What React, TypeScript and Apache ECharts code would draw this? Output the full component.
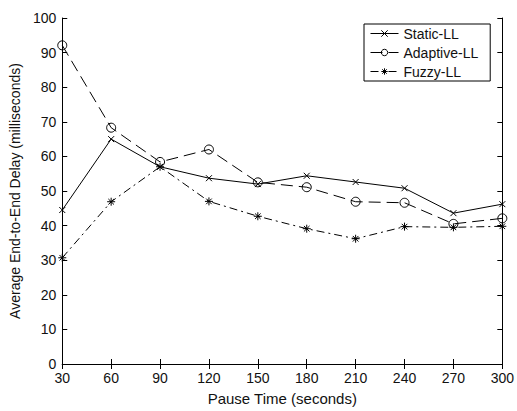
import React, { useEffect, useRef } from "react";
import * as echarts from "echarts";

const pauseTimes = ["30", "60", "90", "120", "150", "180", "210", "240", "270", "300"];
const staticLL = [44.5, 65, 57, 53.7, 52, 54.4, 52.6, 50.8, 43.6, 46.2];
const adaptiveLL = [92.1, 68.3, 58.4, 62, 52.5, 51.1, 46.9, 46.6, 40.5, 42.1];
const fuzzyLL = [30.7, 46.9, 57, 47, 42.7, 39.1, 36.2, 39.7, 39.5, 39.8];
const seriesNames = ["Static-LL", "Adaptive-LL", "Fuzzy-LL"];

const X_MARK = "path://M0,0L10,10M10,0L0,10";
const STAR_MARK = "path://M5,0L5,10M0,5L10,5M1.5,1.5L8.5,8.5M8.5,1.5L1.5,8.5";
const CIRCLE_MARK = "circle";

const FONT = "Liberation Sans, Arial, sans-serif";
const TXT = "#111";

export default function App() {
  const ref = useRef<HTMLDivElement>(null);
  useEffect(() => {
    if (!ref.current) return;
    const chart = echarts.init(ref.current, undefined, { renderer: "svg" });
    const mkSeries = (name: string, data: number[], symbol: string, size: number, lineType: any) => ({
      name,
      type: "line",
      data,
      symbol,
      symbolSize: size,
      showSymbol: true,
      lineStyle: { color: "#000", width: 1, type: lineType },
      itemStyle: { color: "rgba(0,0,0,0)", borderColor: "#000", borderWidth: 1 },
      emphasis: { disabled: true },
    });
    const boxAxis = {
      axisLine: { show: true, lineStyle: { color: "#000", width: 1 } },
      axisTick: { show: true, inside: true, length: 5, lineStyle: { color: "#000" } },
      splitLine: { show: false },
    };
    chart.setOption({
      animation: false,
      backgroundColor: "#fff",
      grid: { left: 61, top: 18, right: 14, bottom: 45, containLabel: false },
      legend: {
        left: 364,
        top: 24,
        orient: "vertical",
        backgroundColor: "#fff",
        borderColor: "#000",
        borderWidth: 1,
        borderRadius: 0,
        padding: [2, 12, 2, 6],
        itemGap: 4,
        itemWidth: 28,
        itemHeight: 8,
        lineStyle: { width: 1 },
        itemStyle: { borderWidth: 1 },
        textStyle: { fontFamily: FONT, fontSize: 14, color: TXT, lineHeight: 15 },
        data: seriesNames,
      },
      xAxis: [
        {
          type: "category",
          data: pauseTimes,
          boundaryGap: false,
          name: "Pause Time (seconds)",
          nameLocation: "middle",
          nameGap: 27,
          nameTextStyle: { fontFamily: FONT, fontSize: 15, color: TXT },
          axisLabel: { fontFamily: FONT, fontSize: 14, color: TXT, margin: 7, lineHeight: 13 },
          ...boxAxis,
        },
        {
          type: "category",
          data: pauseTimes,
          boundaryGap: false,
          position: "top",
          axisLabel: { show: false },
          ...boxAxis,
        },
      ],
      yAxis: [
        {
          type: "value",
          min: 0,
          max: 100,
          interval: 10,
          name: "Average End-to-End Delay (milliseconds)",
          nameLocation: "middle",
          nameGap: 38,
          nameTextStyle: { fontFamily: FONT, fontSize: 14, color: TXT },
          axisLabel: { fontFamily: FONT, fontSize: 14, color: TXT, margin: 6, lineHeight: 13 },
          ...boxAxis,
        },
        {
          type: "value",
          min: 0,
          max: 100,
          interval: 10,
          position: "right",
          axisLabel: { show: false },
          ...boxAxis,
        },
      ],
      series: [
        mkSeries(seriesNames[0], staticLL, X_MARK, 6, "solid"),
        mkSeries(seriesNames[1], adaptiveLL, CIRCLE_MARK, 9, [12, 6]),
        mkSeries(seriesNames[2], fuzzyLL, STAR_MARK, 8, [8, 4, 2, 4]),
      ],
    });
    return () => chart.dispose();
  }, []);
  return (
    <div
      ref={ref}
      style={{ position: "absolute", left: 0, top: 0, width: 517, height: 411 }}
    />
  );
}
